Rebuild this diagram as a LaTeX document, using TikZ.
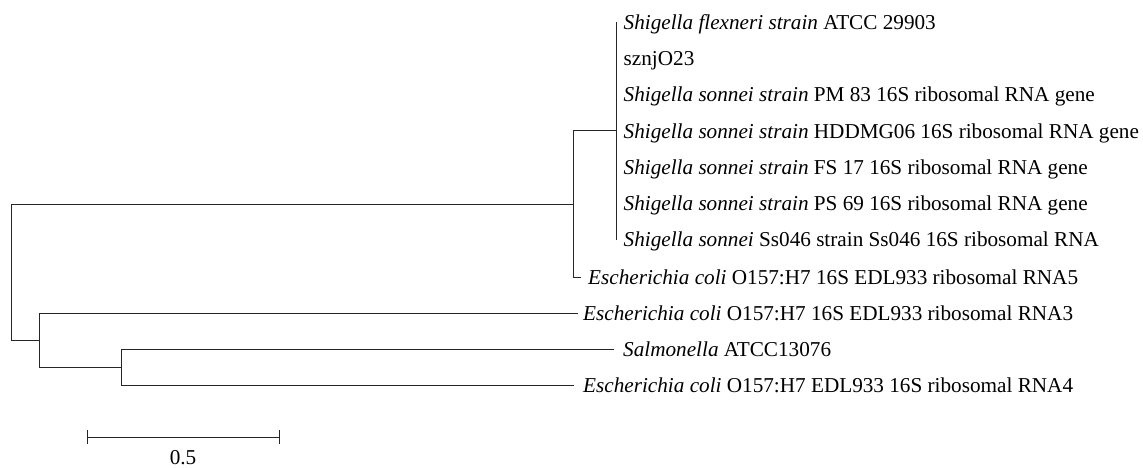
\documentclass[tikz,border=0pt]{standalone}
\usepackage{fontspec}
\setmainfont{Liberation Serif}
\begin{document}
\begin{tikzpicture}[x=1pt,y=-1pt,
  branch/.style={line width=1pt, draw=black!85, line cap=rect},
  lab/.style={anchor=base west, inner sep=0pt, font=\fontsize{21.2}{24}\selectfont}]
\useasboundingbox (0,0) rectangle (1143,468);
% internal nodes
\coordinate (R) at (11.5,272);
\coordinate (A) at (573.5,204);
\coordinate (S) at (616.5,131);
\coordinate (B) at (39.5,340.5);
\coordinate (C) at (121.5,367);
% leaf tips
\coordinate (t1) at (616.5,22.5);
\coordinate (t2) at (616.5,58.7);
\coordinate (t3) at (616.5,94.9);
\coordinate (t4) at (616.5,131.1);
\coordinate (t5) at (616.5,167.3);
\coordinate (t6) at (616.5,203.5);
\coordinate (t7) at (616.5,239.7);
\coordinate (t8) at (580,277);
\coordinate (t9) at (577,313);
\coordinate (t10) at (613,349);
\coordinate (t11) at (573,385);
% branches
\draw[branch] (A) -| (R) |- (B);
\draw[branch] (S) -| (A) |- (t8);
\draw[branch] (t1) -- (t7);
\draw[branch] (t9) -| (B) |- (C);
\draw[branch] (t10) -| (C) |- (t11);
% labels
\node[lab] (n1) at ([xshift=7pt,yshift=-7pt]t1) {\textit{Shigella flexneri strain} ATCC 29903};
\node[lab] (n2) at ([xshift=7pt,yshift=-7pt]t2) {sznjO23};
\node[lab] (n3) at ([xshift=7pt,yshift=-7pt]t3) {\textit{Shigella sonnei strain} PM 83 16S ribosomal RNA gene};
\node[lab] (n4) at ([xshift=7pt,yshift=-7pt]t4) {\textit{Shigella sonnei strain} HDDMG06 16S ribosomal RNA gene};
\node[lab] (n5) at ([xshift=7pt,yshift=-7pt]t5) {\textit{Shigella sonnei strain} FS 17 16S ribosomal RNA gene};
\node[lab] (n6) at ([xshift=7pt,yshift=-7pt]t6) {\textit{Shigella sonnei strain} PS 69 16S ribosomal RNA gene};
\node[lab] (n7) at ([xshift=7pt,yshift=-7pt]t7) {\textit{Shigella sonnei} Ss046 strain Ss046 16S ribosomal RNA};
\node[lab] (n8) at ([xshift=8pt,yshift=-7pt]t8) {\textit{Escherichia coli} O157:H7 16S EDL933 ribosomal RNA5};
\node[lab] (n9) at ([xshift=6pt,yshift=-7pt]t9) {\textit{Escherichia coli} O157:H7 16S EDL933 ribosomal RNA3};
\node[lab] (n10) at ([xshift=10pt,yshift=-7pt]t10) {\textit{Salmonella} ATCC13076};
\node[lab] (n11) at ([xshift=10pt,yshift=-7pt]t11) {\textit{Escherichia coli} O157:H7 EDL933 16S ribosomal RNA4};
% scale bar
\coordinate (s1) at (87.5,437);
\coordinate (s2) at (279.5,437);
\draw[branch] (s1) -- (s2);
\draw[branch] ([yshift=6.5pt]s1) -- ([yshift=-6.5pt]s1);
\draw[branch] ([yshift=6.5pt]s2) -- ([yshift=-6.5pt]s2);
\node[lab, anchor=base] (sl) at (183,464) {0.5};
\end{tikzpicture}
\end{document}
